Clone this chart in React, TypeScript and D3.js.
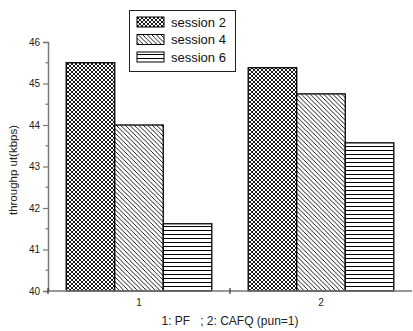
import React, { useEffect, useRef } from 'react';
import * as d3 from 'd3';

const categories = ['1', '2'];
const seriesNames = ['session 2', 'session 4', 'session 6'];
const session2 = [45.5, 45.38];
const session4 = [44.0, 44.75];
const session6 = [41.62, 43.57];
const yTicks = [40, 41, 42, 43, 44, 45, 46];

const patternIds = ['pat-cross', 'pat-diag', 'pat-horiz'];

const App = () => {
    const ref = useRef<SVGSVGElement>(null);

    useEffect(() => {
        const svg = d3.select(ref.current);
        svg.selectAll('*').remove();
        const width = 413, height = 331;
        svg.attr('width', width).attr('height', height);
        const font = '"Liberation Sans", Arial, sans-serif';

        // patterns
        const defs = svg.append('defs');
        const cross = defs.append('pattern').attr('id', patternIds[0])
            .attr('patternUnits', 'userSpaceOnUse').attr('width', 4).attr('height', 4);
        cross.append('rect').attr('width', 4).attr('height', 4).attr('fill', 'white');
        cross.append('path').attr('d', 'M0,0L4,4M4,0L0,4')
            .attr('stroke', 'black').attr('stroke-width', 0.9);
        const diag = defs.append('pattern').attr('id', patternIds[1])
            .attr('patternUnits', 'userSpaceOnUse').attr('width', 4.5).attr('height', 4.5);
        diag.append('rect').attr('width', 4.5).attr('height', 4.5).attr('fill', 'white');
        diag.append('path').attr('d', 'M0,0L4.5,4.5M-1,3.5L1,5.5M3.5,-1L5.5,1')
            .attr('stroke', 'black').attr('stroke-width', 0.9);
        const horiz = defs.append('pattern').attr('id', patternIds[2])
            .attr('patternUnits', 'userSpaceOnUse').attr('width', 6).attr('height', 4);
        horiz.append('rect').attr('width', 6).attr('height', 4).attr('fill', 'white');
        horiz.append('path').attr('d', 'M0,2.5L6,2.5')
            .attr('stroke', 'black').attr('stroke-width', 1);

        const x = d3.scaleBand().domain(categories).range([48, 412])
            .paddingInner(0.2).paddingOuter(0.1);
        const xs = d3.scaleBand().domain(seriesNames).range([0, x.bandwidth()]);
        const y = d3.scaleLinear().domain([40, 46]).range([291, 42]);

        const series = [session2, session4, session6];
        series.forEach((vals, si) => {
            svg.append('g').selectAll('rect')
                .data(vals)
                .enter().append('rect')
                .attr('x', (d, i) => x(categories[i])! + xs(seriesNames[si])!)
                .attr('y', d => y(d))
                .attr('width', xs.bandwidth())
                .attr('height', d => y(40) - y(d))
                .attr('fill', `url(#${patternIds[si]})`)
                .attr('stroke', 'black')
                .attr('stroke-width', 1.3);
        });

        const axisColor = '#777';
        // y axis
        const yAxis = svg.append('g').attr('transform', 'translate(48,0)')
            .call(d3.axisLeft(y).tickValues(yTicks).tickSize(5).tickPadding(3).tickFormat(d3.format('d')));
        yAxis.select('.domain').attr('stroke', axisColor).attr('stroke-width', 1.5);
        yAxis.selectAll('.tick line').attr('stroke', axisColor).attr('stroke-width', 1.2);
        yAxis.selectAll('.tick text').attr('font-family', font).attr('font-size', 10).attr('fill', '#222');
        const minor = d3.range(40.5, 46, 1);
        svg.append('g').selectAll('line').data(minor).enter().append('line')
            .attr('x1', 45.5).attr('x2', 48).attr('y1', d => y(d)).attr('y2', d => y(d))
            .attr('stroke', axisColor).attr('stroke-width', 1.2);

        // x axis
        svg.append('line').attr('x1', 48).attr('x2', 412).attr('y1', y(40)).attr('y2', y(40))
            .attr('stroke', axisColor).attr('stroke-width', 1.5);
        const bounds = [x.range()[0], (x(categories[0])! + x.bandwidth() + x(categories[1])!) / 2];
        svg.append('g').selectAll('line').data(bounds).enter().append('line')
            .attr('x1', d => d).attr('x2', d => d).attr('y1', y(40) - 3).attr('y2', y(40) + 3)
            .attr('stroke', '#333').attr('stroke-width', 1.2);
        svg.append('g').selectAll('text').data(categories).enter().append('text')
            .attr('x', d => x(d)! + x.bandwidth() / 2).attr('y', 306)
            .attr('text-anchor', 'middle').attr('font-family', font).attr('font-size', 10)
            .attr('fill', '#222').text(d => d);

        svg.append('text').attr('x', 230).attr('y', 325).attr('text-anchor', 'middle')
            .attr('font-family', font).attr('font-size', 12).attr('fill', '#222')
            .attr('xml:space', 'preserve')
            .text('1: PF   ; 2: CAFQ (pun=1)');

        svg.append('text').attr('transform', 'translate(17,170) rotate(-90)')
            .attr('text-anchor', 'middle').attr('font-family', font).attr('font-size', 11.5)
            .attr('fill', '#222').text('throughp ut(kbps)');

        // legend
        const lg = svg.append('g');
        lg.append('rect').attr('x', 129.5).attr('y', 10.5).attr('width', 106).attr('height', 61)
            .attr('fill', 'white').attr('stroke', '#222').attr('stroke-width', 1);
        seriesNames.forEach((name, i) => {
            const ry = 17 + i * 17.5;
            lg.append('rect').attr('x', 137).attr('y', ry).attr('width', 27).attr('height', 10)
                .attr('fill', `url(#${patternIds[i]})`).attr('stroke', 'black').attr('stroke-width', 1);
            lg.append('text').attr('x', 171).attr('y', ry + 9.5)
                .attr('font-family', font).attr('font-size', 13).attr('fill', '#111').text(name);
        });
    }, []);

    return <svg ref={ref} style={{ position: 'absolute', left: 0, top: 0 }}></svg>;
};

export default App;
